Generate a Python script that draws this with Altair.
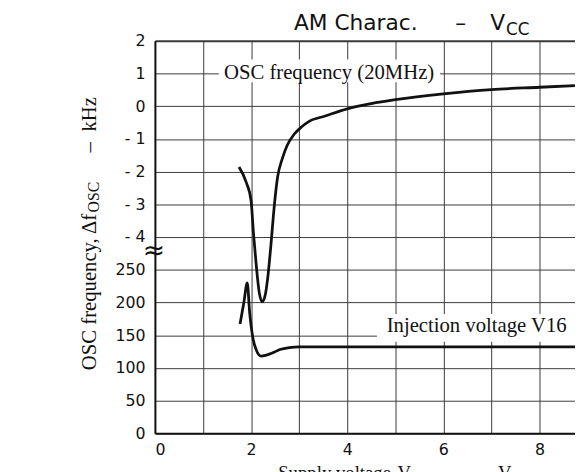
import altair as alt
import pandas as pd

# ---- data ----
osc_v = [1.75, 1.90, 2.00, 2.05, 2.11, 2.17, 2.23, 2.29, 2.35, 2.41, 2.48, 2.55,
         2.65, 2.75, 2.90, 3.06, 3.20, 3.54, 4.00, 4.50, 5.00, 6.00, 7.00, 8.00, 8.74]
osc_khz = [-1.86, -2.33, -2.89, -3.89, -4.90, -5.70, -5.98, -5.80, -5.20, -4.29, -3.09, -2.18,
           -1.60, -1.20, -0.85, -0.62, -0.47, -0.30, -0.08, 0.08, 0.20, 0.38, 0.51, 0.58, 0.63]

inj_v = [1.77, 1.85, 1.92, 1.97, 2.04, 2.11, 2.21, 2.30, 2.45, 2.60, 2.80, 3.00, 5.00, 8.74]
inj_mv = [167, 200, 230, 185, 145, 127, 118, 119, 123, 128, 131, 132, 132, 132]

x_ticks = [0, 1, 2, 3, 4, 5, 6, 7, 8]
y_rows = [0, 1, 2, 3, 4, 5, 6, 7, 8, 9, 10, 11, 12]
y_labels = ['0', '50', '100', '150', '200', '250', '- 4', '- 3', '- 2', '- 1', '0', '1', '2']

label_texts = ['OSC frequency (20MHz)', 'Injection voltage V16']

X_MAX = 8.738

osc = pd.DataFrame({'v': osc_v, 'val': osc_khz, 'series': 'osc'})
inj = pd.DataFrame({'v': inj_v, 'val': inj_mv, 'series': 'inj'})
curves = pd.concat([osc, inj], ignore_index=True)

x_scale = alt.Scale(domain=[0, X_MAX], nice=False, zero=False)
y_scale = alt.Scale(domain=[0, 12], nice=False, zero=False)

label_js = "[" + ",".join("'" + s + "'" for s in y_labels) + "]"

x_axis = alt.Axis(values=x_ticks, labelExpr="datum.value % 2 == 0 ? datum.label : ''",
                  grid=True, gridColor='#3a3a3a', gridWidth=1, ticks=False,
                  domainColor='#111', domainWidth=2, labelFont='DejaVu Sans',
                  labelFontSize=16, labelColor='#111', labelPadding=9, title=None)
y_axis = alt.Axis(values=y_rows, labelExpr=label_js + "[datum.value]",
                  grid=True, gridColor='#3a3a3a',
                  gridWidth=alt.ExprRef(expr="datum.value == 12 ? 2 : 1"),
                  ticks=False, domainColor='#111', domainWidth=2, labelFont='DejaVu Sans',
                  labelFontSize=16, labelColor='#111', labelPadding=10, title=None)

lines = alt.Chart(curves).transform_calculate(
    row="datum.series == 'osc' ? datum.val + 10 : datum.val / 50"
).mark_line(color='#111', strokeWidth=2.8, interpolate='monotone', clip=True).encode(
    x=alt.X('v:Q', scale=x_scale, axis=x_axis),
    y=alt.Y('row:Q', scale=y_scale, axis=y_axis),
    detail='series:N',
)

# white boxes behind the curve labels (they interrupt the grid)
boxes = pd.DataFrame({'x1': [1.33, 4.62], 'x2': [5.93, 8.74],
                      'y1': [10.73, 2.80], 'y2': [11.43, 3.65]})
box_layer = alt.Chart(boxes).mark_rect(color='white', clip=True).encode(
    x=alt.X('x1:Q', scale=x_scale, axis=x_axis), x2='x2:Q',
    y=alt.Y('y1:Q', scale=y_scale, axis=y_axis), y2='y2:Q',
)

labels = pd.DataFrame({'t': label_texts, 'v': [1.436, 4.82], 'row': [11.0, 3.29]})
label_layer = alt.Chart(labels).mark_text(
    font='Liberation Serif', fontSize=21, align='left', baseline='middle', color='#111'
).encode(
    x=alt.X('v:Q', scale=x_scale, axis=x_axis),
    y=alt.Y('row:Q', scale=y_scale, axis=y_axis),
    text='t:N',
)


def txt(s, x, y, size=21, font='Liberation Serif', align='left', baseline='alphabetic', angle=0):
    kw = dict(font=font, fontSize=size, align=align, baseline=baseline, color='#111')
    if angle:
        kw['angle'] = angle
    return alt.Chart(pd.DataFrame({'t': [s]})).mark_text(**kw).encode(
        x=alt.value(x), y=alt.value(y), text='t:N')


annots = [
    # chart title
    txt('AM Charac.', 141, -11, size=22, font='DejaVu Sans'),
    txt('–', 310, -11, size=22, font='DejaVu Sans', align='center'),
    txt('V', 340, -11, size=22, font='DejaVu Sans'),
    txt('CC', 356, -6, size=17, font='DejaVu Sans'),
    # y-axis title (rotated)
    txt('OSC frequency,', -60, 334, angle=270),
    txt('Δf', -60, 196, angle=270),
    txt('OSC', -57, 174, size=16, angle=270),
    txt('–', -60, 108, angle=270, align='center'),
    txt('kHz', -60, 57, angle=270, align='right'),
    # x-axis title (cut off at the bottom of the page)
    txt('Supply voltage,', 125, 444, size=19),
    txt('V', 246, 444, size=19),
    txt('CC', 260, 448, size=15),
    txt('–', 320, 444, size=19, align='center'),
    txt('V', 348, 444, size=19),
    # axis break mark
    txt('≈', -1, 213, size=27, font='DejaVu Sans', align='center', baseline='middle'),
]

chart = alt.layer(lines, box_layer, label_layer, *annots).properties(
    width=426, height=398,
    autosize=alt.AutoSizeParams(type='none'),
    padding={'left': 149, 'top': 30, 'right': 0, 'bottom': 36},
    background='white',
).configure_view(stroke=None)

chart.save("out.html", embed_options={"renderer": "svg", "actions": False})
